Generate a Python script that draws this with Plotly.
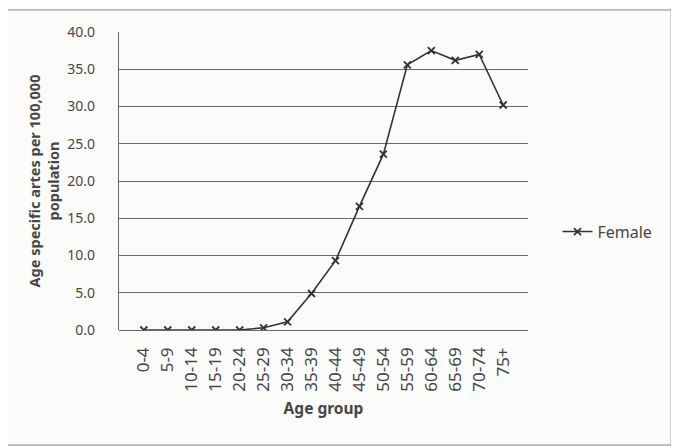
import plotly.graph_objects as go

age_groups = ["0-4", "5-9", "10-14", "15-19", "20-24", "25-29", "30-34", "35-39",
              "40-44", "45-49", "50-54", "55-59", "60-64", "65-69", "70-74", "75+"]
female = [0.0, 0.0, 0.0, 0.0, 0.0, 0.3, 1.1, 4.9, 9.3, 16.6, 23.6, 35.6, 37.5, 36.2, 37.0, 30.2]
y_ticks = [0, 5, 10, 15, 20, 25, 30, 35, 40]
y_tick_labels = ["0.0", "5.0", "10.0", "15.0", "20.0", "25.0", "30.0", "35.0", "40.0"]

fig = go.Figure()
fig.add_trace(go.Scatter(
    x=age_groups, y=female, name="Female", mode="lines+markers",
    line=dict(color="#333333", width=1.6),
    marker=dict(symbol="x-thin", size=7, line=dict(color="#333333", width=1.8), color="#333333"),
))

font = "Noto Sans"
fig.update_layout(
    template="none",
    width=679, height=447,
    paper_bgcolor="#fbfbf9", plot_bgcolor="#fbfbf9",
    margin=dict(l=111, r=159, t=24, b=125, autoexpand=False),
    font=dict(family=font, color="#474747", size=14),
    showlegend=True,
    legend=dict(x=1.072, y=0.33, yanchor="middle", xanchor="left",
                font=dict(size=16, color="#474747"), bgcolor="rgba(0,0,0,0)"),
    xaxis=dict(
        type="category", tickangle=-90, showgrid=False, automargin=False,
        showline=False, ticks="", tickfont=dict(size=17, family=font, color="#474747"),
        ticklabelstandoff=13,
        title=dict(text="<b>Age group</b>", font=dict(size=15.5), standoff=12),
    ),
    yaxis=dict(
        range=[0, 40], tickvals=y_ticks, ticktext=y_tick_labels, automargin=False,
        showgrid=True, gridcolor="#6a6a6a", gridwidth=1.2,
        showline=True, linecolor="#6a6a6a", linewidth=1.2,
        zeroline=True, zerolinecolor="#6a6a6a", zerolinewidth=1.2,
        ticks="", tickfont=dict(size=14), ticklabelstandoff=20,
        title=dict(text="<b>Age specific artes per 100,000<br>population</b>", font=dict(size=14.5), standoff=4),
    ),
    shapes=[dict(type="rect", xref="paper", yref="paper", x0=-0.35, x1=1.35, y0=-0.386, y1=1.074,
                 line=dict(color="#888", width=1))],
)

fig.write_html("out.html")
